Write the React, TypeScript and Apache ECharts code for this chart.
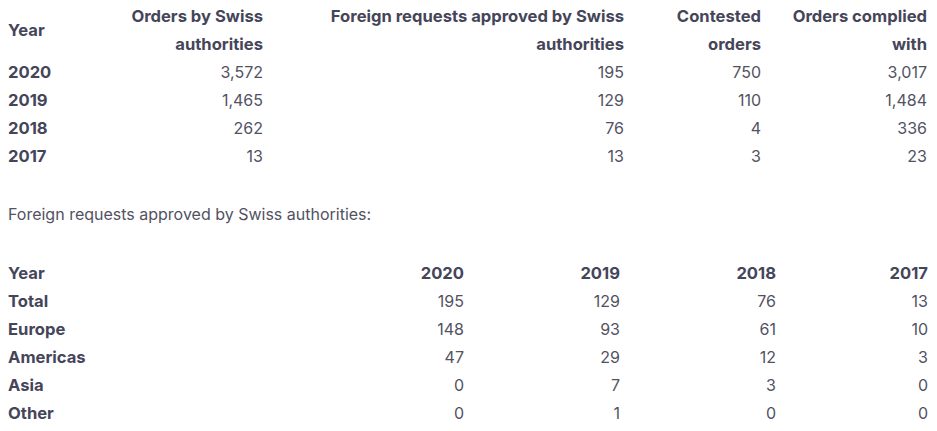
import React, { useEffect, useRef } from "react";
import * as echarts from "echarts";

// Table 1
const table1Headers = [
  ["Orders by Swiss", "authorities"],
  ["Foreign requests approved by Swiss", "authorities"],
  ["Contested", "orders"],
  ["Orders complied", "with"],
];
const years1 = ["2020", "2019", "2018", "2017"];
const ordersBySwiss = [3572, 1465, 262, 13];
const foreignApproved = [195, 129, 76, 13];
const contestedOrders = [750, 110, 4, 3];
const ordersComplied = [3017, 1484, 336, 23];

const subtitle = "Foreign requests approved by Swiss authorities:";

// Table 2
const years2 = ["2020", "2019", "2018", "2017"];
const regions = ["Total", "Europe", "Americas", "Asia", "Other"];
const approved2020 = [195, 148, 47, 0, 0];
const approved2019 = [129, 93, 29, 7, 1];
const approved2018 = [76, 61, 12, 3, 0];
const approved2017 = [13, 10, 3, 0, 0];

const BOLD = "#45455a";
const REG = "#525262";
const FONT = "Inter, 'Noto Sans', sans-serif";

function fmt(n: number) {
  return n.toLocaleString("en-US");
}

export default function App() {
  const ref = useRef<HTMLDivElement>(null);
  useEffect(() => {
    if (!ref.current) return;
    const chart = echarts.init(ref.current, null, { renderer: "svg" });
    const els: any[] = [];
    const txt = (text: string, x: number, y: number, align: string, bold: boolean) => {
      els.push({
        type: "text",
        x,
        y,
        style: {
          text,
          align,
          verticalAlign: "middle",
          fill: bold ? BOLD : REG,
          font: bold ? `700 16.6px ${FONT}` : `400 16px ${FONT}`,
        },
      });
    };
    // Table 1
    const t1Right = [263, 624, 761, 927];
    txt("Year", 8, 30, "left", true);
    table1Headers.forEach((h, i) => {
      txt(h[0], t1Right[i], 16, "right", true);
      txt(h[1], t1Right[i], 44, "right", true);
    });
    const cols1 = [ordersBySwiss, foreignApproved, contestedOrders, ordersComplied];
    years1.forEach((y, r) => {
      const yy = 72 + r * 28;
      txt(y, 8, yy, "left", true);
      cols1.forEach((col, c) => txt(fmt(col[r]), t1Right[c], yy, "right", false));
    });
    // Subtitle
    txt(subtitle, 8, 214, "left", false);
    // Table 2
    const t2Right = [464, 620, 776, 928];
    txt("Year", 8, 273, "left", true);
    years2.forEach((y, c) => txt(y, t2Right[c], 273, "right", true));
    const cols2 = [approved2020, approved2019, approved2018, approved2017];
    regions.forEach((rg, r) => {
      const yy = 301 + r * 28;
      txt(rg, 8, yy, "left", true);
      cols2.forEach((col, c) => txt(fmt(col[r]), t2Right[c], yy, "right", false));
    });
    chart.setOption({
      animation: false,
      backgroundColor: "#ffffff",
      graphic: els,
    });
    return () => chart.dispose();
  }, []);
  return (
    <div
      ref={ref}
      style={{ position: "fixed", left: 0, top: 0, width: 937, height: 431, background: "#fff" }}
    />
  );
}
